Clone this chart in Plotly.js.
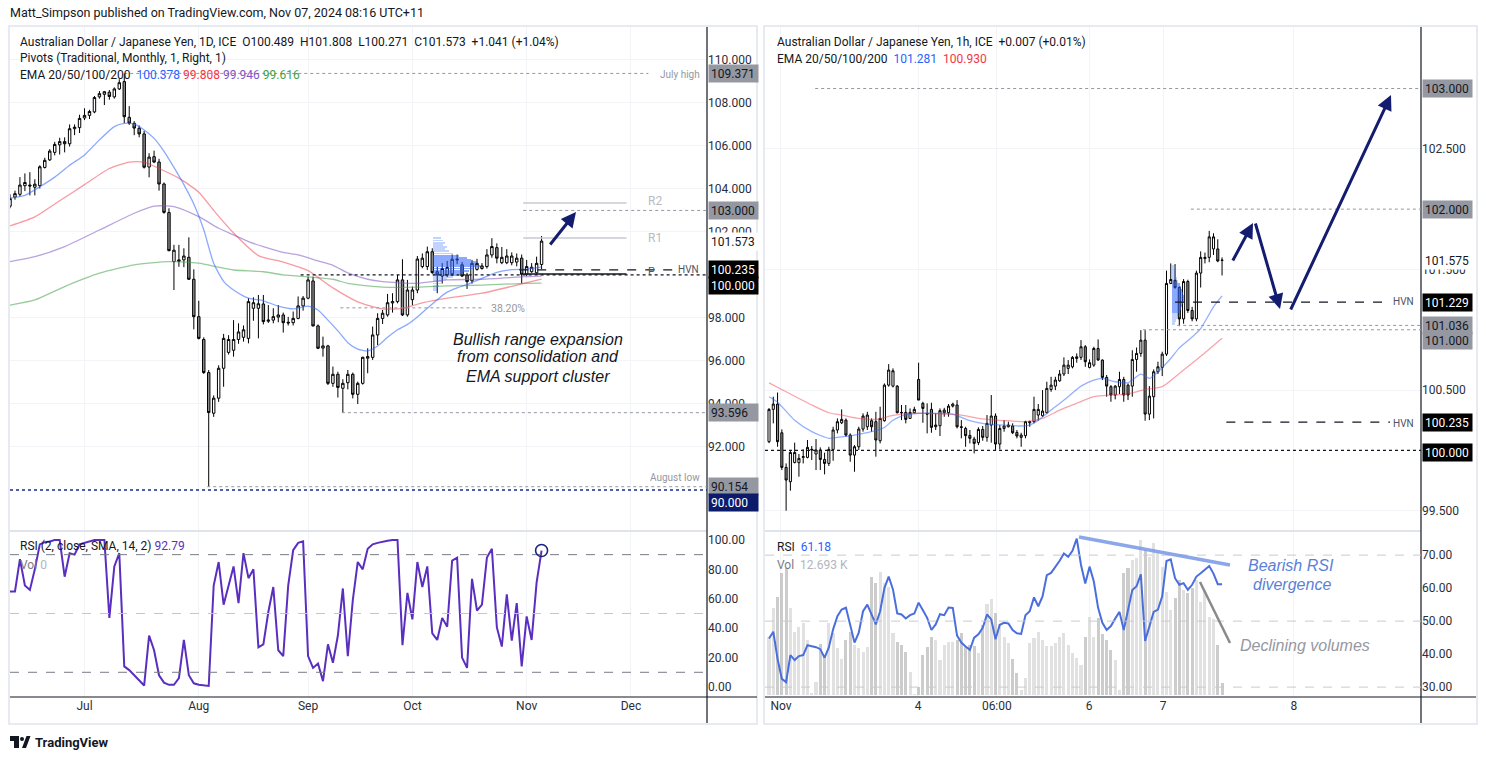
<!DOCTYPE html>
<html><head><meta charset="utf-8">
<script src="https://cdn.plot.ly/plotly-3.0.1.min.js"></script>
<style>html,body{margin:0;padding:0;background:#fff;overflow:hidden}#chart{width:1486px;height:759px}</style>
</head><body><div id="chart"></div>
<script>
// ---------------- DATA: daily AUD/JPY (Jun 10 – Nov 6, 2024) ----------------
const dailyO=[103.2,103.62,103.75,104.15,104.18,104.08,104.15,105.0,105.35,105.7,
106.05,106.2,106.1,106.8,106.85,107.3,107.42,107.58,108.28,108.4,
108.5,108.28,108.65,108.99,107.33,107.05,106.82,106.56,105.02,105.5,
105.25,104.23,102.9,100.62,100.7,100.7,100.82,99.8,98.06,97.0,
95.46,93.57,94.27,95.66,96.4,96.5,97.0,97.1,97.05,98.45,
98.45,98.65,97.85,97.9,98.04,98.14,97.8,97.78,97.98,98.56,
98.92,99.72,97.63,96.6,96.7,94.96,95.38,94.73,94.99,95.38,
94.45,94.96,96.13,96.17,97.21,97.98,98.14,98.7,98.76,99.77,
98.14,98.85,99.3,100.39,100.39,101.08,100.15,99.95,100.0,100.05,
100.7,100.47,100.0,99.73,100.26,100.3,100.39,100.93,101.27,100.57,
100.57,100.57,100.6,100.78,100.03,100.15,100.1,100.489];
const dailyH=[103.75,103.92,104.55,104.72,104.78,104.45,105.1,105.45,105.85,106.19,
106.38,106.4,107.0,107.0,107.45,107.75,107.68,108.32,108.55,108.55,
108.6,108.72,109.1,109.371,107.85,107.15,106.95,106.7,105.66,105.78,
105.4,104.3,103.1,101.4,101.4,101.24,101.75,100.26,98.8,97.1,
95.58,94.4,95.8,97.26,97.2,97.9,97.75,97.65,98.92,98.96,
99.07,99.07,98.6,98.45,98.6,98.25,98.05,98.3,99.0,99.02,
99.92,99.92,97.7,97.13,96.75,95.74,95.5,95.15,95.58,95.46,
95.04,96.2,96.59,97.6,98.22,98.37,99.12,99.15,100.0,100.73,
99.77,99.46,100.88,101.0,101.32,101.24,100.38,100.55,100.65,100.95,
100.95,100.6,100.1,100.7,100.75,100.55,101.2,101.71,101.47,101.3,
101.2,101.05,101.0,100.95,100.7,100.55,100.85,101.808];
const dailyL=[103.1,103.5,103.65,103.9,103.7,103.7,104.02,104.95,105.3,105.56,
105.6,105.7,105.97,106.5,106.6,107.2,107.25,107.52,108.2,107.9,
108.15,108.2,108.6,107.06,106.98,106.5,106.4,104.95,104.54,105.2,
103.92,102.85,101.1,99.3,100.38,100.36,99.77,97.47,97.0,95.4,
90.154,93.4,94.1,94.8,96.3,96.2,96.8,96.9,96.82,97.87,
97.05,97.7,97.77,97.75,97.8,97.32,97.65,97.65,97.94,98.34,
98.87,97.6,96.55,96.2,94.88,94.8,94.3,93.596,94.68,94.26,
94.0,94.9,95.43,96.05,96.74,97.72,98.06,98.25,98.68,98.09,
98.06,98.6,99.15,100.31,100.23,100.05,99.15,99.6,99.9,99.95,
100.5,99.9,99.35,99.6,100.2,100.25,100.3,100.8,100.54,100.5,
100.5,100.45,100.4,99.61,99.95,100.1,100.05,100.271];
const dailyC=[103.55,103.78,104.18,104.3,104.14,104.22,105.03,105.33,105.76,106.07,
106.2,106.1,106.8,106.87,107.28,107.42,107.6,108.25,108.43,108.52,
108.3,108.65,108.94,107.36,107.06,106.83,106.56,105.01,105.48,105.25,
104.23,102.91,101.13,101.15,100.64,100.88,99.8,98.06,97.05,95.46,
93.6,94.27,95.66,97.05,97.0,97.0,97.35,97.45,98.76,98.71,
98.66,97.83,97.9,98.06,98.14,97.78,97.77,97.98,98.56,98.92,
99.77,97.63,96.59,96.7,94.96,95.38,94.77,94.96,95.38,94.45,
94.96,96.17,96.2,97.21,97.98,98.22,98.71,98.76,99.77,98.14,
99.3,99.3,100.74,100.78,101.08,100.11,100.0,100.3,100.35,100.73,
100.73,99.95,99.69,100.54,100.54,100.42,100.93,101.32,100.78,100.82,
100.88,100.88,100.78,100.03,100.39,100.36,100.54,101.573];
const dailyRSI=[65,65,87,69,66,80,97,98.5,99,100,
100,75,91,90,97,98,99,100,100,100,
47,82,91,14,11.5,8,4,1,35,25,
8,3,1.5,1.5,6,32,8,2.5,1.5,1,
0.7,69,85,56,70,82,57,91,74,80,
27,29,51,68,25,21,69,93,98,99,
21,13,16,4,29,16.5,35,67,21,59,
85,80,94,97,98,99,99.5,100,100,28.5,
64,46,85,68,82,36.5,32,47,41,86,
88,20,13,73.5,52,56,88,94,40.5,27.5,
63,31.5,57,14,48,32,71,92.79];
// EMA readings (trading-day index, value)
const ema20Idx=[0,3,6,9,12,15,18,21,23,25,27,29,31,33,35,37,39,41,43,45,48,51,54,57,60,62,64,66,68,70,72,74,76,78,80,82,84,86,88,90,92,95,98,101,104,107];
const ema20Val=[103.57,103.7,104.1,104.55,105.1,105.58,106.28,106.9,107.05,107.02,106.74,106.35,105.75,105.0,104.2,103.3,102.1,100.54,99.7,99.3,98.92,98.8,98.55,98.42,98.55,98.37,97.9,97.4,96.85,96.55,96.47,96.7,97.1,97.45,97.7,98.05,98.45,98.85,99.2,99.4,99.55,99.84,100.12,100.25,100.27,100.378];
const ema50Idx=[0,5,10,15,20,24,27,30,34,38,41,45,50,55,60,65,70,75,79,83,88,95,101,104,107];
const ema50Val=[102.28,102.7,103.45,104.2,104.95,105.25,105.25,104.95,104.5,103.85,103.0,101.95,100.9,100.6,100.2,99.4,98.75,98.42,98.45,98.7,98.92,99.15,99.47,99.64,99.808];
const ema100Idx=[0,5,11,18,25,29,33,38,42,45,48,51,55,58,62,65,68,72,75,82,88,95,104,107];
const ema100Val=[100.62,100.85,101.32,102.09,102.87,103.2,103.18,102.71,102.17,101.86,101.55,101.32,101.05,100.93,100.65,100.45,100.1,99.8,99.69,99.61,99.77,99.8,99.92,99.946];
const ema200Idx=[0,5,11,18,25,32,38,42,45,51,55,58,65,68,72,75,82,88,95,104,107];
const ema200Val=[98.6,98.84,99.46,100.08,100.47,100.62,100.55,100.36,100.23,100.15,100.0,99.95,99.8,99.61,99.49,99.43,99.43,99.49,99.53,99.61,99.616];
// Volume profile (daily)
const vpLPrice=[101.7,101.6,101.5,101.4,101.3,101.2,101.1,101.0,100.9,100.8,100.7,100.6,100.5,100.4,100.3,100.2,100.1,100.0,99.9,99.8,99.7,99.6,99.5,99.4,99.3];
const vpLVol=[8,10,12,10,14,12,16,20,26,34,38,45,42,47,40,36,30,26,20,14,10,8,6,5,4];
const vpLValueArea=[99.95,100.95];

// ---------------- DATA: hourly AUD/JPY (Nov 1 – Nov 7) ----------------
const hourO=[100.072,100.34,100.384,100.146,99.859,99.74,99.9,99.898,99.942,99.942,
100.003,99.97,100.003,99.925,99.892,100.008,100.169,100.229,100.251,100.127,
99.961,100.03,100.177,100.196,100.246,100.238,100.08,100.246,100.541,100.533,
100.533,100.315,100.315,100.265,100.312,100.588,100.39,100.307,100.34,100.196,
100.204,100.312,100.312,100.367,100.376,100.196,100.182,100.124,100.094,100.064,
100.174,100.108,100.21,100.285,100.053,100.182,100.196,100.202,100.149,100.108,
100.122,100.229,100.238,100.293,100.287,100.312,100.505,100.533,100.577,100.633,
100.68,100.693,100.762,100.771,100.859,100.688,100.707,100.845,100.749,100.605,
100.528,100.459,100.528,100.588,100.541,100.533,100.754,100.804,100.914,100.301,
100.445,100.652,100.688,100.798,101.384,101.41,101.35,101.09,101.4,101.16,
101.09,101.47,101.59,101.6,101.67,101.67,101.578];
const hourH=[100.35,100.445,100.48,100.174,99.892,99.997,100.064,99.97,100.008,100.086,
100.036,100.094,100.025,99.981,100.03,100.196,100.265,100.34,100.265,100.141,
100.044,100.196,100.307,100.32,100.265,100.32,100.362,100.555,100.715,100.68,
100.541,100.376,100.376,100.348,100.362,100.727,100.403,100.39,100.395,100.307,
100.348,100.353,100.384,100.395,100.417,100.251,100.196,100.169,100.113,100.191,
100.202,100.293,100.459,100.307,100.21,100.251,100.238,100.224,100.169,100.146,
100.246,100.246,100.445,100.384,100.5,100.569,100.61,100.61,100.666,100.771,
100.749,100.782,100.804,100.914,100.873,100.754,100.859,100.92,100.754,100.625,
100.541,100.541,100.652,100.61,100.555,100.83,100.853,100.997,100.997,100.533,
100.671,100.735,100.818,101.49,101.55,101.545,101.36,101.42,101.415,101.19,
101.49,101.65,101.64,101.82,101.8,101.75,101.6];
const hourL=[100.06,100.224,100.03,99.837,99.5,99.666,99.892,99.782,99.892,99.934,
99.92,99.837,99.837,99.801,99.87,99.914,100.141,100.218,100.113,99.906,
99.823,100.003,100.155,100.169,100.155,99.948,100.058,100.238,100.528,100.522,
100.307,100.251,100.224,100.265,100.307,100.417,100.229,100.141,100.146,100.169,
100.119,100.279,100.279,100.356,100.182,100.1,100.03,100.058,99.975,100.044,
100.08,100.072,100.064,100.003,100.008,100.155,100.191,100.135,100.1,100.03,
100.1,100.196,100.224,100.246,100.279,100.307,100.486,100.5,100.569,100.616,
100.633,100.68,100.727,100.749,100.693,100.68,100.693,100.743,100.583,100.445,
100.403,100.423,100.467,100.403,100.417,100.445,100.652,100.776,100.246,100.251,
100.265,100.633,100.616,100.782,101.378,101.34,101.03,101.05,101.14,101.07,
101.07,101.35,101.55,101.56,101.62,101.56,101.45];
const hourC=[100.34,100.384,100.072,99.859,99.754,99.983,99.983,99.934,99.948,100.025,
100.008,100.003,99.925,99.892,100.008,100.169,100.238,100.257,100.127,99.961,
100.03,100.177,100.285,100.293,100.196,100.086,100.265,100.541,100.666,100.66,
100.312,100.312,100.257,100.315,100.34,100.417,100.348,100.301,100.191,100.21,
100.329,100.334,100.367,100.384,100.196,100.191,100.122,100.1,100.058,100.174,
100.108,100.224,100.285,100.053,100.182,100.202,100.21,100.146,100.119,100.127,
100.238,100.238,100.34,100.34,100.326,100.514,100.541,100.583,100.633,100.707,
100.707,100.771,100.776,100.859,100.735,100.727,100.845,100.749,100.605,100.533,
100.459,100.533,100.588,100.459,100.459,100.754,100.804,100.914,100.301,100.45,
100.652,100.693,100.798,101.384,101.417,101.35,101.09,101.4,101.16,101.09,
101.47,101.6,101.6,101.77,101.77,101.57,101.575];
const hourRSI=[44.7,46.8,38.5,32.5,31.5,39.7,38.2,39.4,39.7,42.7,
42.4,42.1,41.5,38.9,42,47.5,51.5,53.5,54.1,48.5,
43.5,46.5,53,55,52,49,53,60,63.5,59.6,
52.3,52,50.8,51.8,52.3,55.6,53.3,51,47.3,49,
52.1,51.8,54.1,54,45.6,43.5,42.3,41.3,45,46,
48,52,50.5,44.5,48.9,49.5,49.3,47.3,46.3,46.1,
51.8,53,57.2,54.5,57.5,63.9,64.6,66.3,68.3,70.5,
69.5,71.3,75,67,61.4,66.5,62,54,49.5,47.3,
48.5,50.8,52.8,47.3,53.5,59.4,60.6,64.2,44,48.8,
52.8,53.5,57.5,68.2,68.7,63,61,61.5,59.5,61,
63.5,64.5,65.5,66.7,64.4,61.2,61.18];
const hourVolK=[63.5,94.4,107,132.5,138,94.4,69,74.4,78,60,
1.8,14.5,56,41.7,78,67,50.8,38.8,60,69,
54.5,50.8,47.2,52.6,128.9,121.6,134.3,121.6,118,67,
58,54.5,47.2,25.4,1.1,9.1,43.6,52.6,63.5,60,
38.1,54.5,58,58,60,67,52.6,54.5,53.4,45.4,
76.2,99,105,89.7,77.3,62.8,56.3,38.8,23.6,5.4,
18.2,56.3,61.7,69,60,53.4,53.4,56.3,63.5,67,
54.5,45.4,40,32.7,63.5,84.6,63.5,83.5,66.4,60,
49,38.1,5.4,132.5,138,147,148.8,168.8,157.9,150.6,
165.2,156,139.8,112.5,92.6,105.3,125.2,114.3,110.7,116,
125.2,101.6,114.3,85.3,82.4,54.5,12.693];
const hEma20Idx=[0,2,6,10,14,16,20,24,27,29,31,35,39,43,47,51,55,59,61,63,66,70,73,76,78,81,84,87,89,91,94,96,99,101,104,106];
const hEma20Val=[100.445,100.40,100.25,100.155,100.1,100.108,100.127,100.155,100.19,100.25,100.285,100.307,100.307,100.301,100.246,100.218,100.21,100.202,100.21,100.251,100.334,100.445,100.533,100.583,100.597,100.569,100.561,100.633,100.597,100.652,100.762,100.85,100.94,101.01,101.19,101.281];
const hEma50Idx=[0,4,10,14,17,21,25,29,33,37,41,45,49,53,56,60,64,68,72,76,80,84,88,92,96,101,106];
const hEma50Val=[100.56,100.486,100.376,100.312,100.293,100.265,100.257,100.29,100.307,100.307,100.301,100.293,100.265,100.251,100.246,100.238,100.265,100.334,100.39,100.445,100.459,100.467,100.505,100.528,100.638,100.78,100.93];
const vpRPrice=[101.525,101.5,101.475,101.45,101.425,101.4,101.375,101.35,101.325,101.3,101.275,101.25,101.225,101.2,101.175,101.15,101.125,101.1,101.075,101.05];
const vpRVol=[2,3,4,4,5,6,8,9,10,11,12,12,11,10,9,8,6,5,4,3];
const vpRValueArea=[101.14,101.39];

// tick labels
const dayTickDates=['2024-07-01','2024-08-01','2024-09-02','2024-10-01','2024-11-01','2024-12-02'];
const dayTickText=['Jul','Aug','Sep','Oct','Nov','Dec'];
const hourTickBars=[2.8,34.9,53.3,74.9,92.2,122.8];
const hourTickText=['Nov','4','06:00','6','7','8'];
const lPriceTicks=[92,94,96,98,102,104,106,108,110];
const rPriceTicks=[99.5,100.5,101.5,102.5];

// ---------------- helpers ----------------
const W=1486,H=759;
const px=x=>x/W, py=y=>1-y/H;
const DAY=86400000;
const dayMs=(()=>{const o=[];let t=Date.UTC(2024,5,10);const e=Date.UTC(2024,11,31);while(t<=e){const w=new Date(t).getUTCDay();if(w!==0&&w!==6)o.push(t);t+=DAY;}return o;})();
function fmt(ms){const d=new Date(ms);const p=n=>String(n).padStart(2,'0');return d.getUTCFullYear()+'-'+p(d.getUTCMonth()+1)+'-'+p(d.getUTCDate())+' '+p(d.getUTCHours())+':'+p(d.getUTCMinutes());}
function dAt(f){const i=Math.floor(f);return fmt(dayMs[i]+(f-i)*DAY);}
const dates=dailyC.map((_,i)=>dAt(i));
const hIdx=hourC.map((_,i)=>i);
const LSTART=dAt(0), LEND=dAt(140.3);
const RSTART=-0.94, REND=152.55;
const fmt3=v=>v.toFixed(3), fmt2=v=>v.toFixed(2);

const BLUE='#2962ff',RED='#f23645',PURP='#7e57c2',GRN='#43a047';
const tickFont={family:'Roboto, sans-serif',size:12,color:'#2a2e39'};

const traces=[];
// left EMAs
[[ema200Idx,ema200Val,'rgba(67,160,71,0.55)'],[ema100Idx,ema100Val,'rgba(126,87,194,0.55)'],[ema50Idx,ema50Val,'rgba(242,54,69,0.5)'],[ema20Idx,ema20Val,'rgba(41,98,255,0.55)']].forEach(([ix,v,c])=>{
  traces.push({type:'scatter',mode:'lines',x:ix.map(i=>dAt(i)),y:v,line:{color:c,width:1.3,shape:'spline',smoothing:0.6},xaxis:'x',yaxis:'y',hoverinfo:'skip'});
});
traces.push({type:'candlestick',x:dates,open:dailyO,high:dailyH,low:dailyL,close:dailyC,xaxis:'x',yaxis:'y',
  increasing:{line:{color:'#000',width:1},fillcolor:'#ffffff'},decreasing:{line:{color:'#000',width:1},fillcolor:'#8a8a8a'},whiskerwidth:0,hoverinfo:'skip'});
// left volume profile
traces.push({type:'bar',orientation:'h',y:vpLPrice,x:vpLVol,base:0,width:0.085,xaxis:'x3',yaxis:'y',
  marker:{color:vpLPrice.map(p=>(p>=vpLValueArea[0]&&p<=vpLValueArea[1])?'rgba(41,98,255,0.55)':'rgba(41,98,255,0.28)'),line:{width:0}},hoverinfo:'skip'});
// left RSI
traces.push({type:'scatter',mode:'lines',x:dates,y:dailyRSI,line:{color:'#5a2fc0',width:2},xaxis:'x',yaxis:'y2',hoverinfo:'skip'});

// right EMAs
[[hEma50Idx,hEma50Val,'rgba(242,54,69,0.45)'],[hEma20Idx,hEma20Val,'rgba(41,98,255,0.5)']].forEach(([ix,v,c])=>{
  traces.push({type:'scatter',mode:'lines',x:ix,y:v,line:{color:c,width:1.3,shape:'spline',smoothing:0.6},xaxis:'x2',yaxis:'y3',hoverinfo:'skip'});
});
traces.push({type:'candlestick',x:hIdx,open:hourO,high:hourH,low:hourL,close:hourC,xaxis:'x2',yaxis:'y3',
  increasing:{line:{color:'#000',width:1},fillcolor:'#ffffff'},decreasing:{line:{color:'#000',width:1},fillcolor:'#8a8a8a'},whiskerwidth:0,hoverinfo:'skip'});
traces.push({type:'bar',orientation:'h',y:vpRPrice,x:vpRVol,base:0,width:0.022,xaxis:'x4',yaxis:'y3',
  marker:{color:vpRPrice.map(p=>(p>=vpRValueArea[0]&&p<=vpRValueArea[1])?'rgba(41,98,255,0.55)':'rgba(41,98,255,0.28)'),line:{width:0}},hoverinfo:'skip'});
// right volume + RSI
traces.push({type:'bar',x:hIdx,y:hourVolK,width:0.72,xaxis:'x2',yaxis:'y4',
  marker:{color:hIdx.map(i=>hourC[i]>=hourO[i]?'rgba(205,205,205,0.6)':'rgba(170,170,170,0.6)'),line:{width:0}},hoverinfo:'skip'});
traces.push({type:'scatter',mode:'lines',x:hIdx,y:hourRSI,line:{color:'#4a6fdc',width:2},xaxis:'x2',yaxis:'y5',hoverinfo:'skip'});

// ---------------- shapes ----------------
const shapes=[];
const hl=(xref,yref,x0,x1,y,color,dash,width)=>shapes.push({type:'line',xref,yref,x0,x1,y0:y,y1:y,line:{color,dash,width:width||1}});
const pl=(x0,y0,x1,y1,color,width,dash)=>shapes.push({type:'line',xref:'paper',yref:'paper',x0:px(x0),y0:py(y0),x1:px(x1),y1:py(y1),line:{color,width,dash:dash||'solid'}});
// panel frames
shapes.push({type:'rect',xref:'paper',yref:'paper',x0:px(9),x1:px(757),y0:py(724),y1:py(26),line:{color:'#e0e3eb',width:1.5}});
shapes.push({type:'rect',xref:'paper',yref:'paper',x0:px(764),x1:px(1477),y0:py(724),y1:py(26),line:{color:'#e0e3eb',width:1.5}});
pl(10,531,707,531,'#e0e3eb',2); pl(765,531,1421,531,'#e0e3eb',2);
pl(707,27,707,723,'#131722',1.2); pl(1421,27,1421,723,'#131722',1.2);
pl(10,697,757,697,'#131722',1.2); pl(765,697,1476,697,'#131722',1.2);
// left levels
const G='#9598a1';
hl('x','y',dAt(23),dAt(128.5),109.371,G,'dot',1);
hl('x','y',dAt(103.3),dAt(124.1),103.35,'#c7cad1','solid',1.5);
hl('x','y',dAt(103.3),dAt(124.1),101.72,'#c7cad1','solid',1.5);
hl('x','y',dAt(103.3),dAt(124.1),100.05,'#131722','solid',1.5);
hl('x','y',dAt(103.3),LEND,103.0,G,'dot',1);
hl('x','y',dAt(102.5),dAt(133.5),100.235,'#131722','dash',1.2);
hl('x','y',dAt(58.5),LEND,100.0,'#131722','dot',1.3);
hl('x','y',dAt(66.5),dAt(95.1),98.47,G,'dot',1);
hl('x','y',dAt(66.8),LEND,93.596,G,'dot',1);
hl('x','y',dAt(39.7),LEND,90.154,G,'dot',1);
hl('x','y',LSTART,LEND,90.0,'#1a2a8c','dot',1.6);
// left RSI bands
hl('paper','y2',px(10),px(707),90,'#787b86','dash',1);
hl('paper','y2',px(10),px(707),50,'#c3c6ce','dash',1);
hl('paper','y2',px(10),px(707),10,'#787b86','dash',1);
shapes.push({type:'circle',xref:'x',yref:'y2',xsizemode:'pixel',ysizemode:'pixel',xanchor:dates[dates.length-1],yanchor:dailyRSI[dailyRSI.length-1],x0:-6,x1:6,y0:-6,y1:6,line:{color:'#1a237e',width:1.6}});
// right levels
hl('x2','y3',10.8,REND,103.0,G,'dot',1);
hl('x2','y3',98.7,REND,102.0,G,'dot',1);
hl('x2','y3',95.5,REND,101.036,G,'dot',1);
hl('x2','y3',87.5,REND,101.0,G,'dot',1);
hl('x2','y3',95,145.3,101.229,'#131722','dash',1.2);
hl('x2','y3',107,145.3,100.235,'#131722','dash',1.2);
hl('x2','y3',RSTART,REND,100.0,'#131722','dot',1.3);
// right RSI bands
[70,50,30].forEach(v=>hl('paper','y5',px(765),px(1421),v,'#c8cad0','dash',1));
// divergence / declining lines
pl(1079,537,1230,565,'rgba(120,150,230,0.85)',3.5);
pl(1200,582,1230,643,'#8a8a8a',2.5);
// TradingView logo bits
shapes.push({type:'rect',xref:'paper',yref:'paper',x0:px(10),x1:px(19),y0:py(741),y1:py(736),fillcolor:'#131722',line:{width:0}});
shapes.push({type:'rect',xref:'paper',yref:'paper',x0:px(14),x1:px(19),y0:py(748),y1:py(736),fillcolor:'#131722',line:{width:0}});
shapes.push({type:'circle',xref:'paper',yref:'paper',x0:px(20),x1:px(24),y0:py(741),y1:py(737),fillcolor:'#131722',line:{width:0}});
shapes.push({type:'path',xref:'paper',yref:'paper',path:`M ${px(22)} ${py(748)} L ${px(26.5)} ${py(736)} L ${px(30.5)} ${py(736)} L ${px(26)} ${py(748)} Z`,fillcolor:'#131722',line:{width:0}});

// ---------------- annotations ----------------
const ann=[];
const T=(x,y,text,o)=>ann.push(Object.assign({xref:'paper',yref:'paper',x:px(x),y:py(y),text,showarrow:false,xanchor:'left',yanchor:'middle',font:{family:'Roboto, sans-serif',size:12,color:'#131722'}},o||{}));
const S='\u00a0';
T(8,12,'Matt_Simpson published on TradingView.com, Nov 07, 2024 08:16 UTC+11',{font:{family:'Roboto, sans-serif',size:12.5,color:'#131722'}});
T(18,42,`Australian Dollar / Japanese Yen, 1D, ICE${S}${S}O${fmt3(dailyO[107])}${S}${S}H${fmt3(dailyH[107])}${S}${S}L${fmt3(dailyL[107])}${S}${S}C${fmt3(dailyC[107])}${S}${S}+1.041 (+1.04%)`);
T(18,58,'Pivots (Traditional, Monthly, 1, Right, 1)');
T(18,75,`EMA 20/50/100/200${S}${S}<span style="color:${BLUE}">${fmt3(ema20Val[ema20Val.length-1])}</span>${S}<span style="color:${RED}">${fmt3(ema50Val[ema50Val.length-1])}</span>${S}<span style="color:${PURP}">${fmt3(ema100Val[ema100Val.length-1])}</span>${S}<span style="color:${GRN}">${fmt3(ema200Val[ema200Val.length-1])}</span>`);
T(775,42,`Australian Dollar / Japanese Yen, 1h, ICE${S}${S}+0.007 (+0.01%)`);
T(775,59,`EMA 20/50/100/200${S}${S}<span style="color:${BLUE}">${fmt3(hEma20Val[hEma20Val.length-1])}</span>${S}${S}<span style="color:${RED}">${fmt3(hEma50Val[hEma50Val.length-1])}</span>`);
T(18,546,`RSI (2, close, SMA, 14, 2)${S}<span style="color:#5a2fc0">${fmt2(dailyRSI[107])}</span>`);
T(18,565,`<span style="color:#787b86">Vol</span>${S}<span style="color:#b2b5be">0</span>`);
T(775,547,`RSI${S}${S}<span style="color:${BLUE}">${fmt2(hourRSI[106])}</span>`);
T(775,565,`<span style="color:#787b86">Vol</span>${S}${S}<span style="color:#b2b5be">${(hourVolK[106]).toFixed(3)} K</span>`);
T(33,742,'<b>TradingView</b>',{font:{family:'Roboto, sans-serif',size:13,color:'#131722'}});
// chart labels
const small={family:'Roboto, sans-serif',size:10,color:'#9598a1'};
T(702,74,'July high',{xanchor:'right',font:small});
T(702,477,'August low',{xanchor:'right',font:small});
T(508,308,'38.20%',{xanchor:'center',font:{family:'Roboto, sans-serif',size:10.5,color:'#9598a1'}});
T(646,201,'R2',{font:{family:'Roboto, sans-serif',size:12,color:'#b8bbc3'}});
T(646,238,'R1',{font:{family:'Roboto, sans-serif',size:12,color:'#b8bbc3'}});
T(646,271,'P',{font:{family:'Roboto, sans-serif',size:11,color:'#50535e'}});
T(701,269,'HVN',{xanchor:'right',font:{family:'Roboto, sans-serif',size:10,color:'#50535e'}});
T(1416,301,'HVN',{xanchor:'right',font:{family:'Roboto, sans-serif',size:10,color:'#50535e'}});
T(1416,424,'HVN',{xanchor:'right',font:{family:'Roboto, sans-serif',size:10,color:'#50535e'}});
const it={family:'Liberation Sans, Arial, sans-serif',size:16,color:'#131722'};
T(538,339,'<i>Bullish range expansion</i>',{xanchor:'center',font:it});
T(538,357,'<i>from consolidation and</i>',{xanchor:'center',font:it});
T(538,376,'<i>EMA support cluster</i>',{xanchor:'center',font:it});
T(1291,565,'<i>Bearish RSI</i>',{xanchor:'center',font:Object.assign({},it,{color:'#5b7fd8'})});
T(1292,584,'<i>divergence</i>',{xanchor:'center',font:Object.assign({},it,{color:'#5b7fd8'})});
T(1305,645,'<i>Declining volumes</i>',{xanchor:'center',font:Object.assign({},it,{color:'#9598a1'})});
// price-axis boxes
const BX=(xp,yref,v,bg,fg,shift)=>ann.push({xref:'paper',x:px(xp),yref,y:v,text:fmt3(v),showarrow:false,xanchor:'left',yanchor:'middle',align:'left',bgcolor:bg,borderpad:2,width:45,height:13,yshift:shift||0,font:{family:'Roboto, sans-serif',size:12,color:fg}});
const GB='#9598a1',BK='#000000';
BX(708,'y',109.371,GB,'#131722');
BX(708,'y',103.0,GB,'#131722');
BX(708,'y',dailyC[107],'#ffffff','#131722');
BX(708,'y',100.235,BK,'#ffffff');
BX(708,'y',100.0,BK,'#ffffff',-11);
BX(708,'y',93.596,GB,'#131722');
BX(708,'y',90.154,GB,'#131722');
BX(708,'y',90.0,'#0d1b6b','#ffffff',-12);
BX(1422,'y3',103.0,GB,'#131722');
BX(1422,'y3',102.0,GB,'#131722');
BX(1422,'y3',hourC[106],'#ffffff','#131722');
BX(1422,'y3',101.229,BK,'#ffffff');
BX(1422,'y3',101.036,GB,'#131722');
BX(1422,'y3',101.0,GB,'#131722',-11);
BX(1422,'y3',100.235,BK,'#ffffff');
BX(1422,'y3',100.0,BK,'#ffffff',-2);
// arrows
const AR=(tx,ty,hx,hy)=>ann.push({xref:'paper',yref:'paper',x:px(hx),y:py(hy),ax:tx-hx,ay:ty-hy,axref:'pixel',ayref:'pixel',text:'',showarrow:true,arrowhead:2,arrowsize:1,arrowwidth:3,arrowcolor:'#141c70',standoff:0,startstandoff:0});
AR(549,246,576,212);
AR(1232,262,1253,223);
AR(1255,222,1280,309);
AR(1290,311,1391,95);

// ---------------- layout ----------------
const axBase={showgrid:true,gridcolor:'#f3f4f7',zeroline:false,showline:false,ticks:'',fixedrange:true,tickfont:tickFont};
const layout={
  width:W,height:H,margin:{l:0,r:0,t:0,b:0},paper_bgcolor:'#ffffff',plot_bgcolor:'#ffffff',showlegend:false,hovermode:false,
  font:{family:'Roboto, sans-serif',size:12,color:'#131722'},bargap:0,
  xaxis:Object.assign({},axBase,{domain:[px(10),px(707)],anchor:'y2',type:'date',rangebreaks:[{bounds:['sat','mon']}],range:[LSTART,LEND],tickmode:'array',tickvals:dayTickDates,ticktext:dayTickText,rangeslider:{visible:false}}),
  yaxis:Object.assign({},axBase,{domain:[py(530),py(27)],anchor:'x',side:'right',range:[88.14,111.53],tickmode:'array',tickvals:lPriceTicks,ticktext:lPriceTicks.map(fmt3)}),
  yaxis2:Object.assign({},axBase,{domain:[py(697),py(532)],anchor:'x',side:'right',range:[-6.8,105.4],tickmode:'array',tickvals:[0,20,40,60,80,100],ticktext:[0,20,40,60,80,100].map(fmt2),showgrid:false}),
  xaxis3:{overlaying:'x',anchor:'y',range:[-(433-10),(707-433)],visible:false,fixedrange:true},
  xaxis2:Object.assign({},axBase,{domain:[px(765),px(1421)],anchor:'y4',range:[RSTART,REND],tickmode:'array',tickvals:hourTickBars,ticktext:hourTickText,rangeslider:{visible:false}}),
  xaxis4:{overlaying:'x2',anchor:'y3',range:[-(1172-765),(1421-1172)],visible:false,fixedrange:true},
  yaxis3:Object.assign({},axBase,{domain:[py(530),py(27)],anchor:'x2',side:'right',range:[99.34,103.51],tickmode:'array',tickvals:rPriceTicks,ticktext:rPriceTicks.map(fmt3)}),
  yaxis4:{domain:[py(697),py(532)],anchor:'x2',range:[-2.2,177.5],visible:false,fixedrange:true,showgrid:false},
  yaxis5:Object.assign({},axBase,{overlaying:'y4',anchor:'x2',side:'right',range:[27,77],tickmode:'array',tickvals:[30,40,50,60,70],ticktext:[30,40,50,60,70].map(fmt2),showgrid:false}),
  shapes,annotations:ann
};
Plotly.newPlot('chart',traces,layout,{staticPlot:true,displayModeBar:false});
</script></body></html>
